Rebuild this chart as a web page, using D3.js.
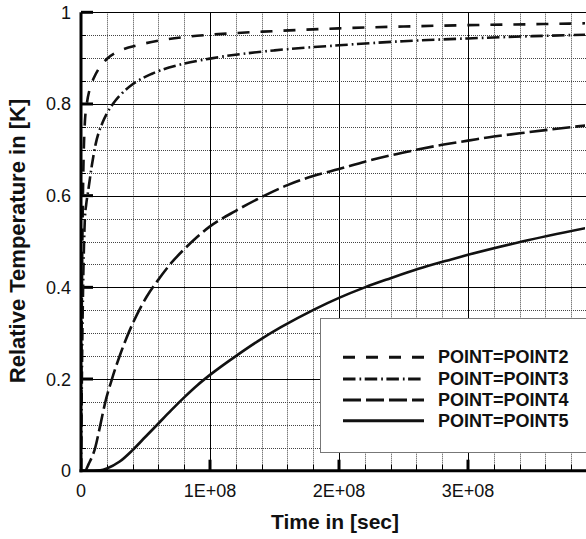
<!DOCTYPE html>
<html><head><meta charset="utf-8">
<script src="https://cdn.jsdelivr.net/npm/d3@7"></script>
<style>body{margin:0;background:#fff}svg{display:block}</style>
</head><body>
<script>
// ---- data (time in units of 1E6 s) ----
const xTickValues = [0, 1e8, 2e8, 3e8];
const xTickLabels = ["0", "1E+08", "2E+08", "3E+08"];
const yTickValues = [0, 0.2, 0.4, 0.6, 0.8, 1];
const yTickLabels = ["0", "0.2", "0.4", "0.6", "0.8", "1"];
const seriesNames = ["POINT=POINT2", "POINT=POINT3", "POINT=POINT4", "POINT=POINT5"];

const t2 = [0,0.2,0.5,1,1.5,2,3,4.5,7,10,15,20,30,45,60,80,100,150,200,250,300,350,391];
const v2 = [0,0.12,0.3,0.48,0.6,0.68,0.76,0.8,0.835,0.857,0.882,0.898,0.916,0.929,0.938,0.946,0.951,0.959,0.965,0.969,0.972,0.974,0.976];

const t3 = [0,0.5,1,1.5,2.3,3.1,4,5.7,8.3,11.4,16.8,20,25,32,40,55,77,100,150,200,250,300,350,391];
const v3 = [0,0.15,0.28,0.38,0.49,0.555,0.58,0.613,0.664,0.713,0.76,0.779,0.801,0.824,0.843,0.866,0.886,0.899,0.917,0.928,0.937,0.943,0.948,0.951];

const t4 = [0,3,6,11,15,18.7,24,30.3,40.7,51,59,69,81,90,100,120,140,160,180,200,220,240,260,280,300,320,340,360,391];
const v4 = [0,0,0.015,0.05,0.1,0.148,0.2,0.253,0.325,0.38,0.413,0.45,0.486,0.51,0.533,0.567,0.597,0.623,0.643,0.658,0.674,0.688,0.7,0.711,0.72,0.729,0.736,0.743,0.753];

const t5 = [0,10,15,20,30,40,50,60,70,80,90,100,120,139,155,181,200,220,240,261,287,300,342,391];
const v5 = [0,0,0.001,0.005,0.02,0.045,0.074,0.103,0.132,0.16,0.186,0.209,0.25,0.286,0.313,0.352,0.377,0.4,0.42,0.44,0.461,0.471,0.5,0.529];

const seriesT = [t2, t3, t4, t5];
const seriesV = [v2, v3, v4, v5];
const seriesDash = ["12,11", "12.5,4,1.7,3.5", "18,5", null];

// ---- chart ----
const W = 586, H = 539;
const svg = d3.select("body").append("svg").attr("width", W).attr("height", H);
const x = d3.scaleLinear().domain([0, 3.9e8]).range([81, 584.1]);
const y = d3.scaleLinear().domain([0, 1]).range([470.7, 12.3]);
const x0 = x(0), x1 = 586, y0 = y(0), yTop = y(1);

// minor grid
const minorX = d3.range(2e7, 3.95e8, 2e7).filter(v => Math.abs(v / 1e8 - Math.round(v / 1e8)) > 1e-6);
const minorY = d3.range(0.05, 1, 0.05).filter(v => Math.abs(v * 5 - Math.round(v * 5)) > 1e-6);
const g = svg.append("g");
g.selectAll(".mx").data(minorX).join("line")
  .attr("x1", d => Math.round(x(d)) + 0.5).attr("x2", d => Math.round(x(d)) + 0.5)
  .attr("y1", yTop).attr("y2", y0)
  .attr("stroke", "#444").attr("stroke-width", 1).attr("stroke-dasharray", "1,1");
g.selectAll(".my").data(minorY).join("line")
  .attr("y1", d => Math.round(y(d)) + 0.5).attr("y2", d => Math.round(y(d)) + 0.5)
  .attr("x1", x0).attr("x2", x1)
  .attr("stroke", "#444").attr("stroke-width", 1).attr("stroke-dasharray", "1,1");
// major grid
g.selectAll(".Mx").data(xTickValues.slice(1)).join("line")
  .attr("x1", d => Math.round(x(d)) + 0.5).attr("x2", d => Math.round(x(d)) + 0.5)
  .attr("y1", yTop).attr("y2", y0).attr("stroke", "#000").attr("stroke-width", 1);
g.selectAll(".My").data(yTickValues.slice(1)).join("line")
  .attr("y1", d => Math.round(y(d)) + 0.5).attr("y2", d => Math.round(y(d)) + 0.5)
  .attr("x1", x0).attr("x2", x1).attr("stroke", "#000").attr("stroke-width", 1);

// minor ticks
g.selectAll(".tmx").data(minorX).join("line")
  .attr("x1", d => Math.round(x(d)) + 0.5).attr("x2", d => Math.round(x(d)) + 0.5)
  .attr("y1", y0 - 6).attr("y2", y0).attr("stroke", "#000").attr("stroke-width", 1);
g.selectAll(".tmy").data(minorY).join("line")
  .attr("y1", d => Math.round(y(d)) + 0.5).attr("y2", d => Math.round(y(d)) + 0.5)
  .attr("x1", x0).attr("x2", x0 + 5).attr("stroke", "#000").attr("stroke-width", 1);
// major ticks
g.selectAll(".tMx").data(xTickValues.slice(1)).join("line")
  .attr("x1", d => x(d)).attr("x2", d => x(d))
  .attr("y1", y0 - 11).attr("y2", y0).attr("stroke", "#000").attr("stroke-width", 3);
g.selectAll(".tMy").data(yTickValues.slice(1)).join("line")
  .attr("y1", d => y(d)).attr("y2", d => y(d))
  .attr("x1", x0).attr("x2", x0 + 12).attr("stroke", "#000").attr("stroke-width", 3);

// curves
svg.append("clipPath").attr("id", "clip").append("rect")
  .attr("x", x0).attr("y", yTop - 3).attr("width", 585 - x0).attr("height", y0 - yTop + 3);
const line = d3.line().x(d => x(d[0] * 1e6)).y(d => y(d[1])).curve(d3.curveMonotoneX);
const cg = svg.append("g").attr("clip-path", "url(#clip)");
seriesT.forEach((ts, i) => {
  const pts = ts.map((t, j) => [t, seriesV[i][j]]);
  cg.append("path").attr("d", line(pts)).attr("fill", "none")
    .attr("stroke", "#111").attr("stroke-width", 2.6)
    .attr("stroke-dasharray", seriesDash[i]);
});

// axes lines
svg.append("line").attr("x1", x0).attr("x2", x0).attr("y1", yTop).attr("y2", y0 + 1.5)
  .attr("stroke", "#000").attr("stroke-width", 3);
svg.append("line").attr("x1", x0 - 1.5).attr("x2", x1).attr("y1", y0).attr("y2", y0)
  .attr("stroke", "#000").attr("stroke-width", 3);

// tick labels
const font = "'Liberation Sans', Arial, sans-serif";
svg.selectAll(".yl").data(yTickValues).join("text")
  .attr("x", 71).attr("y", d => y(d) + 6.5).attr("text-anchor", "end")
  .attr("font-family", font).attr("font-size", 18).attr("fill", "#111")
  .text((d, i) => yTickLabels[i]);
svg.selectAll(".xl").data(xTickValues).join("text")
  .attr("x", d => x(d)).attr("y", 497).attr("text-anchor", "middle")
  .attr("font-family", font).attr("font-size", 18).attr("fill", "#111")
  .text((d, i) => xTickLabels[i]);

// axis titles
svg.append("text").attr("x", 335).attr("y", 529).attr("text-anchor", "middle")
  .attr("font-family", font).attr("font-weight", "bold").attr("font-size", 21).attr("fill", "#111")
  .text("Time in [sec]");
svg.append("text").attr("transform", "translate(25,241) rotate(-90)").attr("text-anchor", "middle")
  .attr("font-family", font).attr("font-weight", "bold").attr("font-size", 22).attr("fill", "#111")
  .text("Relative Temperature in [K]");

// legend
const lg = svg.append("g");
lg.append("rect").attr("x", 320.5).attr("y", 318.5).attr("width", 300).attr("height", 134)
  .attr("fill", "#fff").attr("stroke", "#777").attr("stroke-width", 1);
const legY = [357.3, 379, 400, 420.7];
seriesNames.forEach((name, i) => {
  lg.append("line").attr("x1", 343).attr("x2", 424).attr("y1", legY[i]).attr("y2", legY[i])
    .attr("stroke", "#111").attr("stroke-width", 3).attr("stroke-dasharray", seriesDash[i]);
  lg.append("text").attr("x", 438).attr("y", legY[i] + 6).attr("font-family", font)
    .attr("font-weight", "bold").attr("font-size", 18).attr("fill", "#111").text(name);
});
</script>
</body></html>
